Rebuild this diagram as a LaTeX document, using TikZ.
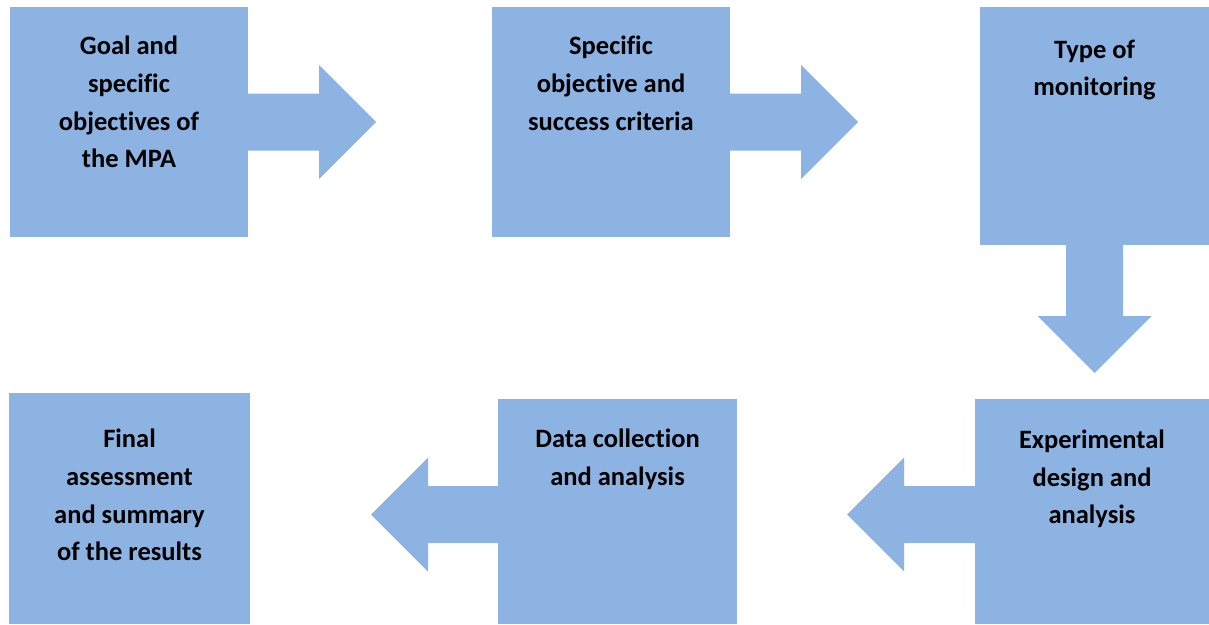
\documentclass[tikz,border=0pt]{standalone}
\usepackage{fontspec}
\setmainfont{Carlito}[Ligatures=CommonOff]
\definecolor{boxblue}{HTML}{8DB3E2}

\begin{document}
\begin{tikzpicture}[x=1pt, y=-1pt,
    blk/.style={rectangle, fill=boxblue, inner sep=0pt, outer sep=0pt},
    txt/.style={anchor=north, align=center, inner sep=0pt,
      execute at begin node=\strut,
      font=\fontsize{26.5pt}{37.7pt}\selectfont\bfseries}]
    \useasboundingbox (0,0) rectangle (1209,624);

    % Kaesten
    \node[blk, minimum width=238pt, minimum height=230pt] (goal) at (129, 122) {};
    \node[blk, minimum width=238pt, minimum height=230pt] (spec) at (611, 122) {};
    \node[blk, minimum width=229pt, minimum height=238pt] (type) at (1094.5, 126) {};
    \node[blk, minimum width=234pt, minimum height=225pt] (expd) at (1092, 511.5) {};
    \node[blk, minimum width=239pt, minimum height=225pt] (data) at (617.5, 511.5) {};
    \node[blk, minimum width=241pt, minimum height=231pt] (final) at (129.5, 508.5) {};

    % Texte
    \node[txt] (goaltxt) at ([yshift=-29pt]goal.north) {Goal and\\specific\\objectives of\\the MPA};
    \node[txt] (spectxt) at ([yshift=-29pt]spec.north) {Specific\\objective and\\success criteria};
    \node[txt] (typetxt) at ([yshift=-32.5pt]type.north) {Type of\\monitoring};
    \node[txt] (expdtxt) at ([yshift=-30.5pt]expd.north) {Experimental\\design and\\analysis};
    \node[txt] (datatxt) at ([yshift=-30pt]data.north) {Data collection\\and analysis};
    \node[txt] (finaltxt) at ([yshift=-36pt]final.north) {Final\\assessment\\and summary\\of the results};

    % Pfeile
    \fill[boxblue] (goal.east) -- ++(0,-28.5) -- ++(71,0) -- ++(0,-28.5) -- ++(57,57)
      -- ++(-57,57) -- ++(0,-28.5) -- ++(-71,0) -- cycle;
    \fill[boxblue] (spec.east) -- ++(0,-28.5) -- ++(71,0) -- ++(0,-28.5) -- ++(57,57)
      -- ++(-57,57) -- ++(0,-28.5) -- ++(-71,0) -- cycle;
    \fill[boxblue] (type.south) -- ++(-28.5,0) -- ++(0,71) -- ++(-28.5,0) -- ++(57,57)
      -- ++(57,-57) -- ++(-28.5,0) -- ++(0,-71) -- cycle;
    \fill[boxblue] ([yshift=-3pt]expd.west) -- ++(0,-28.5) -- ++(-71,0) -- ++(0,-28.5) -- ++(-57,57)
      -- ++(57,57) -- ++(0,-28.5) -- ++(71,0) -- cycle;
    \fill[boxblue] ([yshift=-3pt]data.west) -- ++(0,-28.5) -- ++(-70,0) -- ++(0,-28.5) -- ++(-57,57)
      -- ++(57,57) -- ++(0,-28.5) -- ++(70,0) -- cycle;
  \end{tikzpicture}
\end{document}
